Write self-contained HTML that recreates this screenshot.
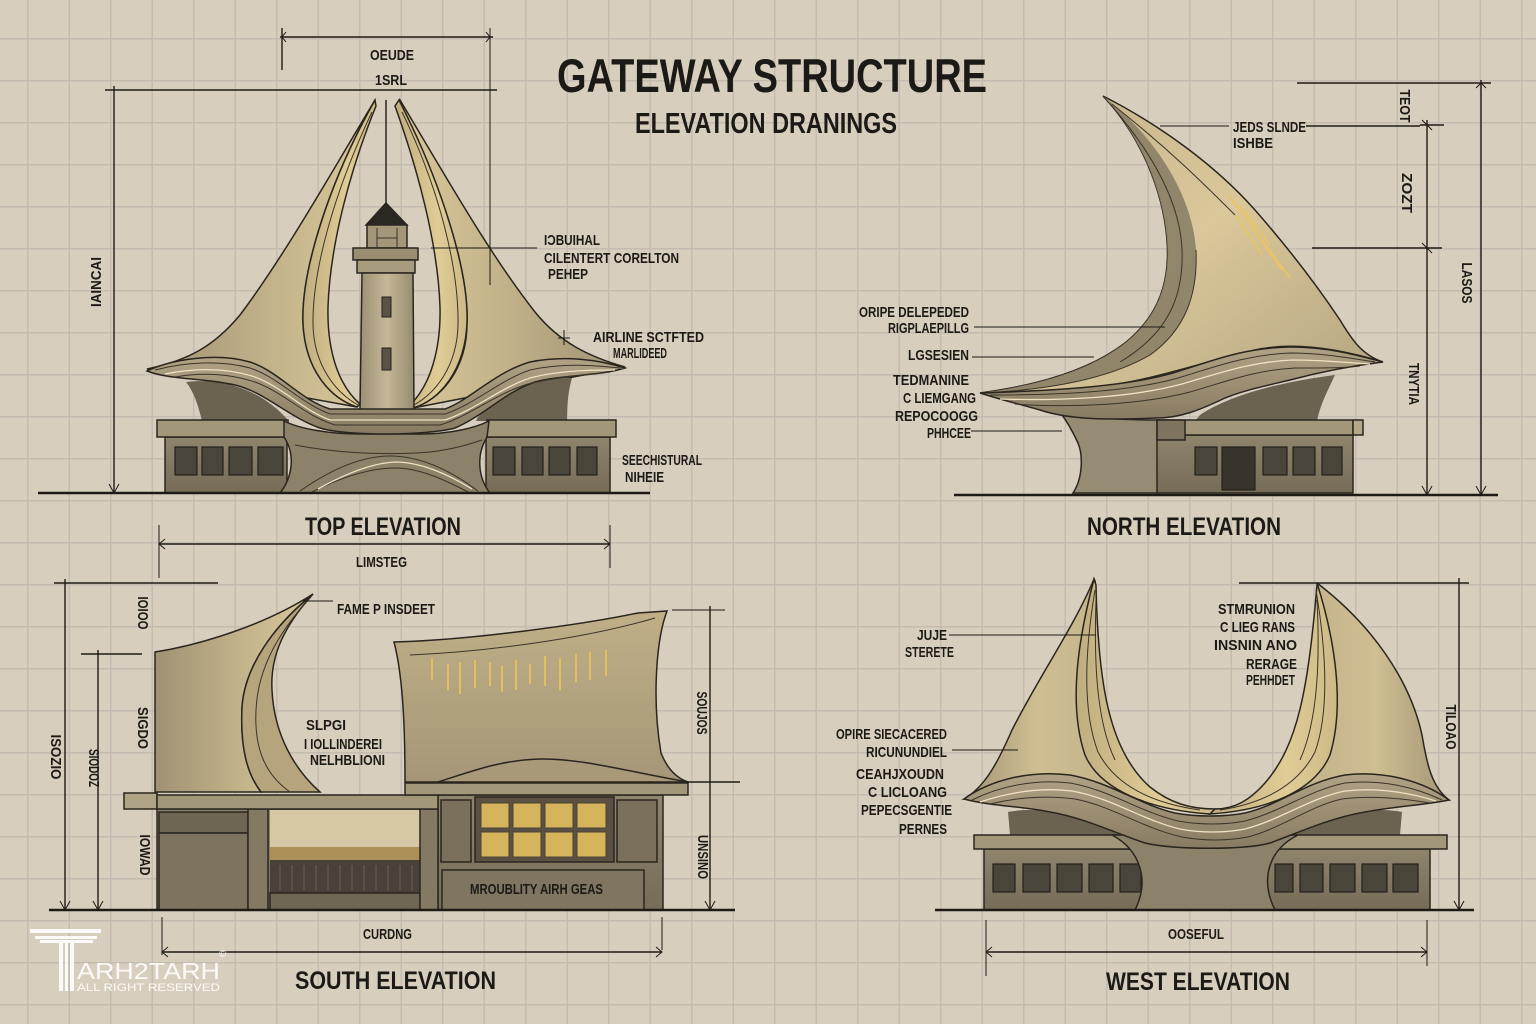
<!DOCTYPE html>
<html><head><meta charset="utf-8">
<style>
html,body{margin:0;padding:0;background:#d8cebe;}
svg{display:block}
text{font-family:"Liberation Sans Narrow","Liberation Sans",sans-serif;font-weight:bold;fill:#1c1a16;}
.l{font-size:15px;}
.t{font-size:25px;}
.ln{stroke:#1e1b16;fill:none;stroke-width:1.4;}
.th{stroke:#1e1b16;fill:none;stroke-width:1;}
.o{stroke:#2a261f;stroke-width:1.5;}
.wl{stroke:#3a342a;fill:none;stroke-width:1;}
.hl{stroke:#efe3c4;fill:none;stroke-width:1.3;}
.win{fill:#4a453b;stroke:#24211b;stroke-width:1.2;}
</style></head><body>
<svg width="1536" height="1024" viewBox="0 0 1536 1024" xmlns="http://www.w3.org/2000/svg">
<defs>
 <pattern id="g" x="27" y="38" width="41.5" height="42" patternUnits="userSpaceOnUse">
  <rect x="0" y="0" width="41.5" height="42" fill="#d8cebe"/>
  <rect x="0" y="0" width="1.5" height="42" fill="#c4bcb1"/>
  <rect x="0" y="0" width="41.5" height="1.5" fill="#c4bcb1"/>
 </pattern>
 <linearGradient id="sailL" x1="0" y1="0" x2="1" y2="0">
  <stop offset="0" stop-color="#9f9274"/><stop offset="0.55" stop-color="#c3b38a"/><stop offset="1" stop-color="#dac89a"/>
 </linearGradient>
 <linearGradient id="sailR" x1="1" y1="0" x2="0" y2="0">
  <stop offset="0" stop-color="#9f9274"/><stop offset="0.55" stop-color="#c3b38a"/><stop offset="1" stop-color="#dac89a"/>
 </linearGradient>
 <linearGradient id="blade" x1="0" y1="0" x2="1" y2="0">
  <stop offset="0" stop-color="#c0ad80"/><stop offset="0.6" stop-color="#e0cc95"/><stop offset="1" stop-color="#cdb986"/>
 </linearGradient>
 <linearGradient id="band" x1="0" y1="0" x2="0" y2="1">
  <stop offset="0" stop-color="#b1a384"/><stop offset="1" stop-color="#877b63"/>
 </linearGradient>
 <linearGradient id="wall" x1="0" y1="0" x2="0" y2="1">
  <stop offset="0" stop-color="#8f846c"/><stop offset="1" stop-color="#766c58"/>
 </linearGradient>
 <linearGradient id="north" x1="0" y1="0" x2="1" y2="1">
  <stop offset="0" stop-color="#c2b088"/><stop offset="0.5" stop-color="#dac79a"/><stop offset="1" stop-color="#b3a47f"/>
 </linearGradient>
 <linearGradient id="tower" x1="0" y1="0" x2="1" y2="0">
  <stop offset="0" stop-color="#9c9074"/><stop offset="0.5" stop-color="#c4b898"/><stop offset="1" stop-color="#978b70"/>
 </linearGradient>
 <linearGradient id="west" x1="964" y1="0" x2="1449" y2="0" gradientUnits="userSpaceOnUse">
  <stop offset="0" stop-color="#a39576"/><stop offset="0.15" stop-color="#cfbe92"/><stop offset="0.5" stop-color="#b5a580"/><stop offset="0.85" stop-color="#cfbe92"/><stop offset="1" stop-color="#a39576"/>
 </linearGradient>
 <linearGradient id="sp" x1="0" y1="0" x2="0" y2="1">
  <stop offset="0" stop-color="#c0af87"/><stop offset="1" stop-color="#a49677"/>
 </linearGradient>
</defs>
<rect width="1536" height="1024" fill="url(#g)"/>

<!-- TITLE -->
<text x="557" y="92" style="font-size:47px" textLength="430" lengthAdjust="spacingAndGlyphs">GATEWAY STRUCTURE</text>
<text x="635" y="133" style="font-size:29px" textLength="262" lengthAdjust="spacingAndGlyphs">ELEVATION DRANINGS</text>

<!-- ================= TOP ELEVATION ================= -->
<g>
 <path class="o" d="M375,100 C330,175 285,255 240,315 C215,345 190,360 147,369 L357,407 C330,398 305,370 303,323 C301,270 330,180 375,100 Z" fill="url(#sailL)"/>
 <path class="o" d="M400,100 C445,175 490,255 535,312 C560,343 590,357 625,367 L413,408 C440,400 467,370 467,323 C469,270 440,180 399,104 Z" fill="url(#sailR)"/>
 <path class="o" d="M375,100 C330,180 301,270 303,323 C305,370 330,398 357,407 L360,404 C338,385 327,350 328,307 C330,245 350,170 376,106 Z" fill="url(#blade)"/>
 <path class="o" d="M399,100 C440,180 469,270 467,323 C465,370 440,400 413,408 L411,404 C430,385 441,350 440,307 C438,245 418,170 395,106 Z" fill="url(#blade)"/>
 <path class="wl" d="M372,112 C335,190 312,270 313,325 C314,365 335,392 358,405"/>
 <path class="wl" d="M402,112 C440,190 459,270 458,325 C457,365 437,392 414,405"/>
 <path class="ln" d="M386,100 V203"/>
 <!-- lighthouse -->
 <polygon class="o" points="386,203 407,225 366,225" fill="#2b2822"/>
 <rect class="o" x="367" y="225" width="40" height="23" fill="#a39679"/>
 <path class="wl" d="M377,228 V248 M397,228 V248 M377,238 H397"/>
 <rect class="o" x="353" y="248" width="65" height="12" fill="#9a8e72"/>
 <rect class="o" x="357" y="260" width="58" height="13" fill="#a89c7f"/>
 <polygon class="o" points="362,273 413,273 414,410 360,410" fill="url(#tower)"/>
 <rect x="382" y="297" width="9" height="20" fill="#5a5244" stroke="#24211b"/>
 <rect x="382" y="348" width="9" height="22" fill="#5a5244" stroke="#24211b"/>
 <!-- pockets -->
 <path d="M186,382 C220,378 250,388 272,405 C281,412 286,418 289,421 L202,421 C198,405 194,392 186,382 Z" fill="#6b6250"/>
 <path d="M572,378 C540,376 505,390 487,408 C480,414 477,418 476,421 L567,421 C567,405 568,392 572,378 Z" fill="#6b6250"/>
 <!-- building -->
 <rect class="o" x="165" y="437" width="122" height="56" fill="url(#wall)"/>
 <rect class="o" x="486" y="437" width="124" height="56" fill="url(#wall)"/>
 <rect class="win" x="175" y="447" width="22" height="28"/><rect class="win" x="202" y="447" width="21" height="28"/>
 <rect class="win" x="229" y="447" width="23" height="28"/><rect class="win" x="258" y="447" width="25" height="28"/>
 <rect class="win" x="493" y="447" width="22" height="28"/><rect class="win" x="522" y="447" width="21" height="28"/>
 <rect class="win" x="549" y="447" width="21" height="28"/><rect class="win" x="577" y="447" width="20" height="28"/>
 <rect class="o" x="157" y="420" width="131" height="17" fill="#a3977a"/>
 <rect class="o" x="487" y="420" width="129" height="17" fill="#a3977a"/>
 <path class="o" d="M284,421 C300,429 330,434 360,434 L420,434 C450,434 475,428 489,421 L487,437 C476,455 478,478 490,493 L280,493 C292,478 296,455 284,437 Z" fill="#8c8169"/>
 <path class="wl" d="M300,491 C330,470 360,456 390,456 C420,456 450,470 478,491"/>
 <path class="wl" d="M312,492 C340,478 370,468 395,468 C420,468 445,480 468,492"/>
 <path class="hl" d="M318,489 C345,474 372,463 395,462 C420,462 448,474 472,489"/>
 <path class="wl" d="M295,445 C330,452 380,456 430,452 C455,449 470,444 482,440"/>
 <!-- wave band -->
 <path class="o" d="M147,371 C170,360 215,352 250,362 C280,372 300,400 330,409 L445,409 C470,400 495,372 530,362 C565,355 600,360 625,368 C600,376 560,375 535,382 C505,392 485,415 455,428 C425,436 345,436 320,428 C290,418 265,392 235,385 C205,378 170,380 147,371 Z" fill="url(#band)"/>
 <path class="wl" d="M155,370 C185,362 220,360 250,368 C280,378 300,403 330,414 L445,414 C475,404 500,380 530,370 C565,362 600,366 620,368"/>
 <path class="hl" d="M165,374 C195,368 225,368 252,376 C282,386 302,410 330,420 L445,420 C475,410 500,388 530,378 C560,370 595,370 615,370"/>
 <path class="wl" d="M175,377 C205,372 230,374 255,382 C285,393 305,416 335,425 L440,425 C470,416 495,394 528,384 C560,376 590,375 610,372"/>
 <!-- dims -->
 <path class="ln" d="M280,37 H493 M282,28 V70 M105,90 H497 M114,86 V493"/>
 <path class="th" d="M490,28 V285 M286,32 L282,37 L286,42 M486,32 L490,37 L486,42 M109,484 L114,493 L119,484"/>
 <path class="ln" d="M38,493 H650" style="stroke-width:2.5"/>
 <path class="th" d="M431,248 H537 M564,330 V345 M558,338 H570"/>
 <text class="l" x="370" y="60" textLength="44" lengthAdjust="spacingAndGlyphs">OEUDE</text>
 <text class="l" x="375" y="85" textLength="32" lengthAdjust="spacingAndGlyphs">1SRL</text>
 <text class="l" transform="translate(101,282) rotate(-90)" text-anchor="middle" textLength="50" lengthAdjust="spacingAndGlyphs">IAINCAI</text>
 <text class="l" x="544" y="245" textLength="56" lengthAdjust="spacingAndGlyphs">IƆBUIHAL</text>
 <text class="l" x="544" y="263" textLength="135" lengthAdjust="spacingAndGlyphs">CILENTERT CORELTON</text>
 <text class="l" x="548" y="279" textLength="40" lengthAdjust="spacingAndGlyphs">PEHEP</text>
 <text class="l" x="593" y="342" textLength="111" lengthAdjust="spacingAndGlyphs">AIRLINE SCTFTED</text>
 <text class="l" x="613" y="358" textLength="54" lengthAdjust="spacingAndGlyphs">MARLIDEED</text>
 <text class="l" x="622" y="465" textLength="80" lengthAdjust="spacingAndGlyphs">SEECHISTURAL</text>
 <text class="l" x="625" y="482" textLength="39" lengthAdjust="spacingAndGlyphs">NIHEIE</text>
 <text class="t" x="305" y="535" textLength="156" lengthAdjust="spacingAndGlyphs">TOP ELEVATION</text>
</g>

<!-- ================= NORTH ELEVATION ================= -->
<g>
 <path class="o" d="M1103,96 C1160,125 1215,165 1255,210 C1290,250 1320,290 1340,320 C1352,340 1362,355 1383,362 C1350,352 1300,340 1255,350 C1200,362 1140,386 1073,389 C1040,391 1010,392 980,393 C1040,385 1090,370 1125,343 C1160,315 1170,280 1167,240 C1163,190 1140,135 1103,96 Z" fill="url(#north)"/>
 <path d="M1103,96 C1140,135 1163,190 1167,240 C1170,280 1160,315 1125,343 C1090,370 1040,385 980,393 C1050,390 1110,378 1150,355 C1185,330 1198,295 1196,250 C1193,200 1160,140 1103,96 Z" fill="#8a7f66" opacity="0.9"/>
 <path class="wl" d="M1110,104 C1150,150 1180,200 1182,250 C1184,300 1165,335 1120,362"/>
 <path class="wl" d="M1112,104 C1170,150 1205,185 1235,215"/>
 <path class="wl" d="M1196,250 C1198,295 1185,330 1150,355 C1110,378 1050,390 980,393"/>
 <path d="M1228,195 L1255,230 M1240,205 L1270,245 M1250,225 L1282,270 M1236,215 L1262,255 M1262,240 L1290,278" stroke="#e6c46c" stroke-width="2" fill="none"/>
 <path d="M1200,415 C1230,395 1280,382 1335,375 C1328,390 1320,405 1317,421 L1195,421 Z" fill="#6b6250"/>
 <path class="o" d="M1060,412 C1100,420 1140,420 1160,420 L1160,493 L1073,493 C1083,478 1083,455 1078,443 C1072,430 1066,420 1060,412 Z" fill="#968b73"/>
 <path class="o" d="M980,393 C1040,391 1120,388 1173,373 C1210,362 1240,348 1290,347 C1330,347 1360,356 1383,362 C1350,366 1320,372 1290,380 C1265,386 1245,390 1225,398 C1200,410 1180,418 1157,418 C1110,420 1070,420 1040,410 C1015,403 995,398 980,393 Z" fill="url(#band)"/>
 <path class="wl" d="M990,395 C1050,395 1125,393 1178,378 C1215,367 1245,355 1290,353 C1325,353 1355,359 1375,362"/>
 <path class="hl" d="M1000,399 C1060,401 1130,398 1182,384 C1220,373 1250,362 1292,360 C1325,360 1350,363 1370,364"/>
 <path class="wl" d="M1015,404 C1070,408 1140,405 1190,392 C1225,382 1255,370 1295,368 C1325,368 1345,368 1360,366"/>
 <rect class="o" x="1157" y="435" width="196" height="58" fill="url(#wall)"/>
 <rect class="win" x="1195" y="447" width="22" height="28"/>
 <rect class="win" x="1222" y="447" width="33" height="43" style="fill:#38342c"/>
 <rect class="win" x="1263" y="447" width="24" height="28"/>
 <rect class="win" x="1293" y="447" width="22" height="28"/>
 <rect class="win" x="1322" y="447" width="20" height="28"/>
 <rect class="o" x="1157" y="420" width="196" height="15" fill="#a3977a"/>
 <rect class="o" x="1353" y="420" width="10" height="15" fill="#b3a78a"/>
 <rect class="o" x="1157" y="420" width="28" height="20" fill="#7d735e"/>
 <path class="ln" d="M954,495 H1498" style="stroke-width:2.5"/>
 <path class="ln" d="M1297,83 H1491 M1481,80 V495 M1427,120 V495 M1420,125 H1444 M1312,248 H1442 M1306,126 H1420"/>
 <path class="th" d="M1476,88 L1481,83 L1486,88 M1476,486 L1481,495 L1486,486 M1422,486 L1427,495 L1432,486 M1422,243 L1432,253 M1422,120 L1432,130"/>
 <path class="th" d="M1160,126 H1229 M974,327 H1165 M972,357 H1094 M971,431 H1062"/>
 <text class="l" x="1233" y="132" textLength="73" lengthAdjust="spacingAndGlyphs">JEDS SLNDE</text>
 <text class="l" x="1233" y="148" textLength="40" lengthAdjust="spacingAndGlyphs">ISHBE</text>
 <text class="l" x="969" y="317" text-anchor="end" textLength="110" lengthAdjust="spacingAndGlyphs">ORIPE DELEPEDED</text>
 <text class="l" x="969" y="333" text-anchor="end" textLength="81" lengthAdjust="spacingAndGlyphs">RIGPLAEPILLG</text>
 <text class="l" x="969" y="360" text-anchor="end" textLength="61" lengthAdjust="spacingAndGlyphs">LGSESIEN</text>
 <text class="l" x="969" y="385" text-anchor="end" textLength="76" lengthAdjust="spacingAndGlyphs">TEDMANINE</text>
 <text class="l" x="976" y="403" text-anchor="end" textLength="73" lengthAdjust="spacingAndGlyphs">C LIEMGANG</text>
 <text class="l" x="978" y="421" text-anchor="end" textLength="83" lengthAdjust="spacingAndGlyphs">REPOCOOGG</text>
 <text class="l" x="971" y="438" text-anchor="end" textLength="44" lengthAdjust="spacingAndGlyphs">PHHCEE</text>
 <text class="l" transform="translate(1400,106) rotate(90)" text-anchor="middle" textLength="33" lengthAdjust="spacingAndGlyphs">TEOT</text>
 <text class="l" transform="translate(1402,193) rotate(90)" text-anchor="middle" textLength="40" lengthAdjust="spacingAndGlyphs">ZOZT</text>
 <text class="l" transform="translate(1462,283) rotate(90)" text-anchor="middle" textLength="41" lengthAdjust="spacingAndGlyphs">LASOS</text>
 <text class="l" transform="translate(1409,384) rotate(90)" text-anchor="middle" textLength="42" lengthAdjust="spacingAndGlyphs">TNYTIA</text>
 <text class="t" x="1087" y="535" textLength="194" lengthAdjust="spacingAndGlyphs">NORTH ELEVATION</text>
</g>

<!-- ================= SOUTH ELEVATION ================= -->
<g>
 <path class="o" d="M155,652 C200,645 265,625 313,594 C275,625 245,665 242,707 C240,750 248,775 261,792 L155,792 Z" fill="url(#sailL)"/>
 <path class="o" d="M313,594 C275,625 245,665 242,707 C240,750 248,775 261,792 L320,792 C295,770 274,735 272,690 C270,655 285,625 313,594 Z" fill="#b6a47c"/>
 <path class="wl" d="M311,597 C282,628 258,665 256,710 C254,750 266,775 290,792"/>
 <path class="o" d="M394,642 C470,640 580,625 638,613 L667,611 C656,640 652,700 661,753 C667,768 676,778 688,782 L405,782 C405,740 404,680 394,642 Z" fill="url(#sp)"/>
 <path class="wl" d="M410,655 C480,652 580,640 655,618"/>
 <path class="o" d="M438,782 C470,772 500,760 540,759 C580,758 630,772 688,782 Z" fill="#a89a79"/>
 <path d="M432,658 V680 M448,664 V690 M460,662 V694 M475,660 V688 M490,662 V686 M502,666 V692 M516,660 V690 M530,664 V684 M545,656 V686 M560,658 V690 M576,654 V682 M590,652 V680 M606,650 V676" stroke="#e4bf5e" stroke-width="2" fill="none"/>
 <rect class="o" x="157" y="809" width="281" height="101" fill="url(#wall)"/>
 <rect class="o" x="438" y="795" width="225" height="115" fill="url(#wall)"/>
 <rect class="o" x="159" y="812" width="89" height="21" fill="#6e6552"/>
 <rect class="o" x="159" y="833" width="89" height="77" fill="#7d735f"/>
 <rect class="o" x="248" y="809" width="20" height="101" fill="#847963"/>
 <rect x="270" y="810" width="150" height="37" fill="#d6c8a5"/>
 <rect x="270" y="847" width="150" height="13" fill="#ad8f58"/>
 <rect x="270" y="860" width="150" height="33" fill="#48423a"/>
 <path d="M280,865 V890 M292,865 V890 M304,865 V890 M316,865 V890 M328,865 V890 M340,865 V890 M352,865 V890 M364,865 V890 M376,865 V890 M388,865 V890 M400,865 V890 M412,865 V890" stroke="#6a6151" stroke-width="1"/>
 <rect class="o" x="270" y="893" width="150" height="17" fill="#6f6654"/>
 <rect class="o" x="420" y="809" width="18" height="101" fill="#847963"/>
 <rect class="o" x="441" y="800" width="30" height="62" fill="#7a705c"/>
 <rect class="o" x="617" y="800" width="40" height="62" fill="#7a705c"/>
 <rect class="o" x="475" y="797" width="139" height="65" fill="#5a5143"/>
 <g fill="#d6b45c" stroke="#4a4236" stroke-width="1">
  <rect x="481" y="803" width="28" height="25"/><rect x="513" y="803" width="28" height="25"/><rect x="545" y="803" width="28" height="25"/><rect x="577" y="803" width="29" height="25"/>
  <rect x="481" y="832" width="28" height="25"/><rect x="513" y="832" width="28" height="25"/><rect x="545" y="832" width="28" height="25"/><rect x="577" y="832" width="29" height="25"/>
 </g>
 <rect class="o" x="442" y="870" width="202" height="40" fill="#7f7560"/>
 <rect class="o" x="124" y="793" width="33" height="16" fill="#b0a487"/>
 <rect class="o" x="157" y="795" width="281" height="14" fill="#a3977a"/>
 <rect class="o" x="405" y="783" width="283" height="12" fill="#a3977a"/>
 <path class="ln" d="M49,910 H735" style="stroke-width:2.5"/>
 <path class="ln" d="M159,544 H610 M54,583 H218 M65,579 V910 M81,654 H142 M98,650 V910 M710,606 V910 M686,782 H740 M162,952 H662"/>
 <path class="th" d="M159,525 V578 M610,525 V568 M162,917 V955 M662,917 V950 M672,610 H725 M303,601 H333"/>
 <path class="th" d="M165,539 L159,544 L165,549 M604,539 L610,544 L604,549 M168,947 L162,952 L168,957 M656,947 L662,952 L656,957 M60,901 L65,910 L70,901 M93,901 L98,910 L103,901 M705,901 L710,910 L715,901"/>
 <text class="l" x="356" y="567" textLength="51" lengthAdjust="spacingAndGlyphs">LIMSTEG</text>
 <text class="l" x="337" y="614" textLength="98" lengthAdjust="spacingAndGlyphs">FAME P INSDEET</text>
 <text class="l" x="306" y="730" textLength="40" lengthAdjust="spacingAndGlyphs">SLPGI</text>
 <text class="l" x="304" y="749" textLength="78" lengthAdjust="spacingAndGlyphs">I IOLLINDEREI</text>
 <text class="l" x="310" y="765" textLength="75" lengthAdjust="spacingAndGlyphs">NELHBLIONI</text>
 <text class="l" x="470" y="894" textLength="133" lengthAdjust="spacingAndGlyphs">MROUBLITY AIRH GEAS</text>
 <text class="l" x="363" y="939" textLength="49" lengthAdjust="spacingAndGlyphs">CURDNG</text>
 <text class="l" transform="translate(138,613) rotate(90)" text-anchor="middle" textLength="33" lengthAdjust="spacingAndGlyphs">IOIOO</text>
 <text class="l" transform="translate(138,728) rotate(90)" text-anchor="middle" textLength="42" lengthAdjust="spacingAndGlyphs">SIGDO</text>
 <text class="l" transform="translate(51,757) rotate(90)" text-anchor="middle" textLength="45" lengthAdjust="spacingAndGlyphs">ISOZIO</text>
 <text class="l" transform="translate(89,768) rotate(90)" text-anchor="middle" textLength="38" lengthAdjust="spacingAndGlyphs">SIODOZ</text>
 <text class="l" transform="translate(140,855) rotate(90)" text-anchor="middle" textLength="41" lengthAdjust="spacingAndGlyphs">IOWAD</text>
 <text class="l" transform="translate(697,713) rotate(90)" text-anchor="middle" textLength="43" lengthAdjust="spacingAndGlyphs">SOUJOS</text>
 <text class="l" transform="translate(698,857) rotate(90)" text-anchor="middle" textLength="44" lengthAdjust="spacingAndGlyphs">UNSINO</text>
 <text class="t" x="295" y="989" textLength="201" lengthAdjust="spacingAndGlyphs">SOUTH ELEVATION</text>
</g>

<!-- ================= WEST ELEVATION ================= -->
<g>
 <path class="o" d="M1094,579 C1075,625 1040,675 1012,730 C998,762 985,787 964,799 L1449,800 C1432,787 1427,765 1422,735 C1410,680 1372,625 1317,583 L1205,812 Z" fill="url(#west)"/>
 <path d="M1096,585 C1098,680 1108,750 1150,787 C1170,803 1190,809 1215,809 C1235,809 1250,800 1265,783 C1298,745 1308,690 1317,585 L1317,560 L1096,560 Z" fill="url(#g)"/>
 <path class="o" d="M1094,579 C1078,640 1068,705 1085,755 C1100,790 1150,810 1210,814 L1215,809 C1190,809 1170,803 1150,787 C1108,750 1098,680 1096,585 Z" fill="url(#blade)"/>
 <path class="o" d="M1317,583 C1335,640 1345,705 1330,755 C1315,790 1270,810 1210,814 L1215,809 C1235,809 1250,800 1265,783 C1298,745 1308,690 1317,585 Z" fill="url(#blade)"/>
 <path class="wl" d="M1095,590 C1085,650 1082,710 1098,752 C1115,785 1150,803 1200,810"/>
 <path class="wl" d="M1316,590 C1326,650 1330,710 1315,752 C1298,785 1265,803 1220,810"/>
 <path class="wl" d="M1096,600 C1094,660 1096,720 1115,760"/>
 <path class="wl" d="M1317,600 C1320,660 1318,720 1300,760"/>
 <path d="M1008,812 C1040,806 1080,814 1120,835 L1010,835 Z" fill="#6b6250"/>
 <path d="M1402,812 C1370,806 1330,814 1290,835 L1400,835 Z" fill="#6b6250"/>
 <rect class="o" x="984" y="849" width="446" height="61" fill="url(#wall)"/>
 <rect class="win" x="993" y="864" width="22" height="28"/><rect class="win" x="1023" y="864" width="27" height="28"/>
 <rect class="win" x="1057" y="864" width="25" height="28"/><rect class="win" x="1089" y="864" width="24" height="28"/>
 <rect class="win" x="1120" y="864" width="21" height="28"/>
 <rect class="win" x="1275" y="864" width="18" height="28"/><rect class="win" x="1300" y="864" width="23" height="28"/>
 <rect class="win" x="1330" y="864" width="25" height="28"/><rect class="win" x="1362" y="864" width="25" height="28"/>
 <rect class="win" x="1393" y="864" width="25" height="28"/>
 <rect class="o" x="974" y="835" width="473" height="14" fill="#a3977a"/>
 <path class="o" d="M1112,835 C1140,850 1150,880 1135,910 L1275,910 C1260,880 1268,850 1298,835 Z" fill="#8c8169"/>
 <path class="o" d="M964,799 C990,780 1030,770 1070,775 C1110,782 1140,805 1175,813 C1195,817 1225,817 1245,813 C1280,805 1305,782 1345,775 C1385,770 1425,782 1449,800 C1420,806 1395,806 1365,812 C1330,818 1300,832 1270,843 C1245,850 1175,850 1145,843 C1115,833 1085,818 1050,812 C1020,806 990,806 964,799 Z" fill="url(#band)"/>
 <path class="wl" d="M972,800 C1000,786 1035,779 1070,783 C1110,790 1140,812 1178,821 C1200,825 1225,825 1245,821 C1280,812 1310,790 1345,783 C1380,779 1415,787 1442,800"/>
 <path class="hl" d="M980,802 C1010,792 1040,787 1072,791 C1112,798 1142,820 1180,829 C1200,833 1225,833 1245,829 C1280,820 1310,798 1345,791 C1378,787 1410,793 1436,801"/>
 <path class="wl" d="M990,804 C1015,798 1045,795 1075,799 C1112,806 1142,828 1182,837 C1205,841 1225,841 1248,837 C1282,828 1310,806 1342,799 C1375,795 1405,799 1430,803"/>
 <path class="ln" d="M935,910 H1474" style="stroke-width:2.5"/>
 <path class="ln" d="M1239,583 H1469 M1459,578 V910 M986,952 H1427"/>
 <path class="th" d="M986,920 V976 M1427,920 V966 M1454,901 L1459,910 L1464,901 M992,947 L986,952 L992,957 M1421,947 L1427,952 L1421,957 M949,635 H1096 M952,750 H1018"/>
 <text class="l" x="947" y="640" text-anchor="end" textLength="30" lengthAdjust="spacingAndGlyphs">JUJE</text>
 <text class="l" x="954" y="657" text-anchor="end" textLength="49" lengthAdjust="spacingAndGlyphs">STERETE</text>
 <text class="l" x="1295" y="614" text-anchor="end" textLength="77" lengthAdjust="spacingAndGlyphs">STMRUNION</text>
 <text class="l" x="1295" y="632" text-anchor="end" textLength="75" lengthAdjust="spacingAndGlyphs">C LIEG RANS</text>
 <text class="l" x="1297" y="650" text-anchor="end" textLength="83" lengthAdjust="spacingAndGlyphs">INSNIN ANO</text>
 <text class="l" x="1297" y="669" text-anchor="end" textLength="51" lengthAdjust="spacingAndGlyphs">RERAGE</text>
 <text class="l" x="1295" y="685" text-anchor="end" textLength="49" lengthAdjust="spacingAndGlyphs">PEHHDET</text>
 <text class="l" x="947" y="739" text-anchor="end" textLength="111" lengthAdjust="spacingAndGlyphs">OPIRE SIECACERED</text>
 <text class="l" x="947" y="757" text-anchor="end" textLength="81" lengthAdjust="spacingAndGlyphs">RICUNUNDIEL</text>
 <text class="l" x="944" y="779" text-anchor="end" textLength="88" lengthAdjust="spacingAndGlyphs">CEAHJXOUDN</text>
 <text class="l" x="947" y="797" text-anchor="end" textLength="79" lengthAdjust="spacingAndGlyphs">C LICLOANG</text>
 <text class="l" x="952" y="815" text-anchor="end" textLength="91" lengthAdjust="spacingAndGlyphs">PEPECSGENTIE</text>
 <text class="l" x="947" y="834" text-anchor="end" textLength="48" lengthAdjust="spacingAndGlyphs">PERNES</text>
 <text class="l" x="1168" y="939" textLength="56" lengthAdjust="spacingAndGlyphs">OOSEFUL</text>
 <text class="l" transform="translate(1446,727) rotate(90)" text-anchor="middle" textLength="45" lengthAdjust="spacingAndGlyphs">TILOAO</text>
 <text class="t" x="1106" y="990" textLength="184" lengthAdjust="spacingAndGlyphs">WEST ELEVATION</text>
</g>

<!-- WATERMARK -->
<g fill="#ffffff" opacity="0.9">
 <rect x="30" y="929" width="71" height="4"/>
 <rect x="35" y="936" width="62" height="3"/>
 <rect x="40" y="940" width="53" height="3"/>
 <rect x="59" y="943" width="4" height="48"/>
 <rect x="65" y="943" width="3" height="48"/>
 <rect x="70" y="943" width="4" height="48"/>
 <text x="77" y="979" style="font-family:'Liberation Sans',sans-serif;font-weight:normal;font-size:23px;fill:#ffffff" textLength="143" lengthAdjust="spacingAndGlyphs">ARH2TARH</text>
 <text x="77" y="991" style="font-family:'Liberation Sans',sans-serif;font-weight:normal;font-size:11px;fill:#ffffff" textLength="143" lengthAdjust="spacingAndGlyphs">ALL RIGHT RESERVED</text>
 <text x="219" y="957" style="font-family:'Liberation Sans',sans-serif;font-weight:normal;font-size:10px;fill:#ffffff">©</text>
</g>
</svg>
</body></html>
